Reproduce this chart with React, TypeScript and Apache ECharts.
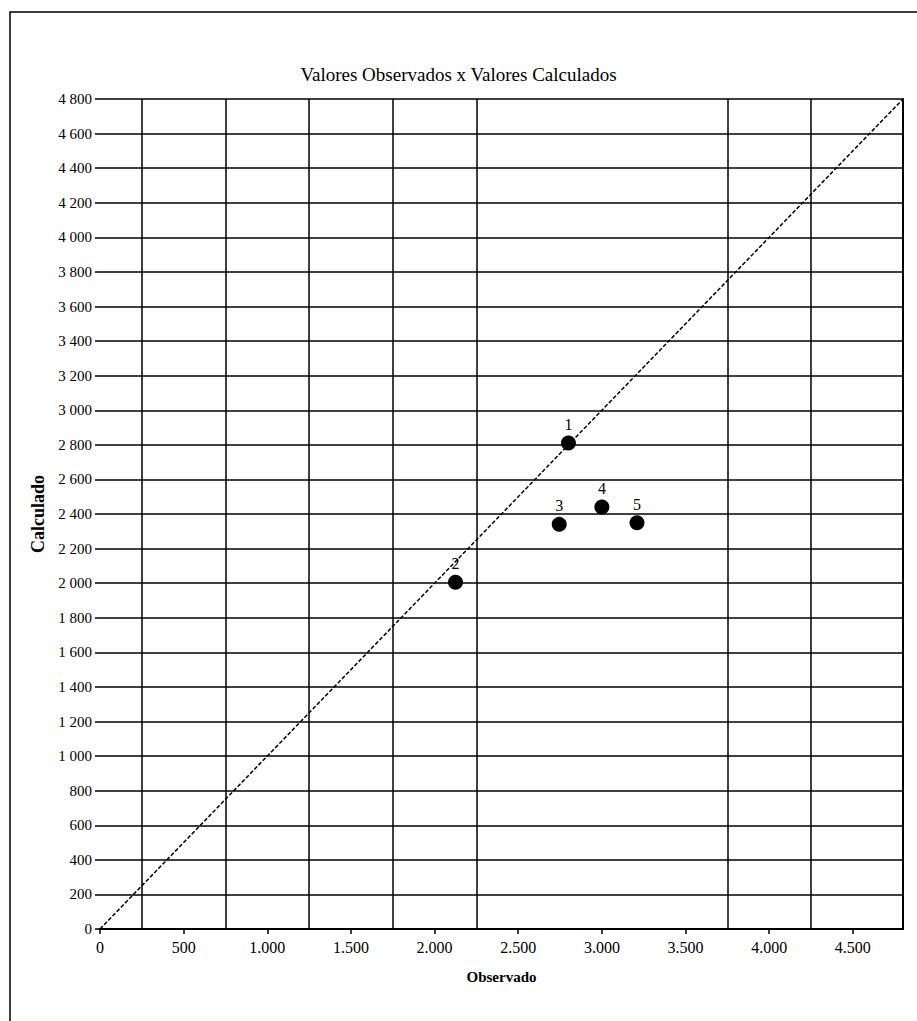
import React, { useEffect, useRef } from "react";
import * as echarts from "echarts";

const pointLabels = ["1", "2", "3", "4", "5"];
const observado = [2800, 2125, 2745, 3000, 3210];
const calculado = [2810, 2005, 2340, 2440, 2350];
const refLine = [0, 4800];
const gridX = [250, 750, 1250, 1750, 2250, 3750, 4250];

const FONT = "Liberation Serif";

function fmtY(v: number) {
  if (v >= 1000) {
    const s = String(v);
    return s.slice(0, s.length - 3) + " " + s.slice(-3);
  }
  return String(v);
}
function fmtX(v: number) {
  if (v >= 1000) {
    const s = String(v);
    return s.slice(0, s.length - 3) + "." + s.slice(-3);
  }
  return String(v);
}

export default function App() {
  const ref = useRef<HTMLDivElement>(null);
  useEffect(() => {
    if (!ref.current) return;
    const chart = echarts.init(ref.current, null, { renderer: "svg" });
    const pts = observado.map((x, i) => ({ value: [x, calculado[i]], name: pointLabels[i] }));
    chart.setOption({
      animation: false,
      backgroundColor: "#ffffff",
      textStyle: { fontFamily: FONT, color: "#000" },
      title: {
        text: "Valores Observados x Valores Calculados",
        left: "center",
        top: 60,
        textStyle: { fontFamily: FONT, fontSize: 19, fontWeight: "normal", color: "#000" },
      },
      graphic: [
        {
          type: "rect",
          shape: { x: 10, y: 12, width: 1000, height: 1100 },
          style: { fill: "none", stroke: "#000", lineWidth: 1.5 },
          silent: true,
        },
      ],
      grid: { left: 100, top: 99, right: 14, bottom: 92 },
      xAxis: {
        type: "value",
        min: 0,
        max: 4800,
        interval: 500,
        name: "Observado",
        nameLocation: "middle",
        nameGap: 40,
        nameTextStyle: { fontFamily: FONT, fontSize: 15, fontWeight: "bold", color: "#000" },
        axisLine: { show: true, lineStyle: { color: "#000", width: 2 } },
        axisTick: { show: true, length: 5, lineStyle: { color: "#000", width: 1.5 } },
        axisLabel: {
          showMaxLabel: false,
          formatter: (v: number) => fmtX(v),
          fontFamily: FONT,
          fontSize: 16,
          color: "#000",
          margin: 10,
        },
        splitLine: { show: false },
      },
      yAxis: [
        {
          type: "value",
          min: 0,
          max: 4800,
          interval: 200,
          name: "Calculado",
          nameLocation: "middle",
          nameGap: 47,
          nameRotate: 90,
          nameTextStyle: { fontFamily: FONT, fontSize: 18, fontWeight: "bold", color: "#000" },
          axisLine: { show: false },
          axisTick: { show: true, length: 5, lineStyle: { color: "#000", width: 1.5 } },
          axisLabel: {
            formatter: (v: number) => fmtY(v),
            fontFamily: FONT,
            fontSize: 15,
            color: "#000",
            margin: 8,
          },
          splitLine: { show: true, lineStyle: { color: "#000", width: 1.5 } },
        },
        {
          type: "value",
          min: 0,
          max: 4800,
          position: "right",
          axisLine: { show: true, onZero: false, lineStyle: { color: "#000", width: 2 } },
          axisTick: { show: false },
          axisLabel: { show: false },
          splitLine: { show: false },
        },
      ],
      series: [
        {
          type: "line",
          data: [
            [refLine[0], refLine[0]],
            [refLine[1], refLine[1]],
          ],
          symbol: "none",
          lineStyle: { color: "#000", width: 1.5, type: [4, 2] },
          silent: true,
          z: 3,
          markLine: {
            silent: true,
            symbol: "none",
            label: { show: false },
            lineStyle: { color: "#000", width: 1.5, type: "solid" },
            data: gridX.map((x) => ({ xAxis: x })),
          },
        },
        {
          type: "scatter",
          data: pts,
          symbol: "circle",
          symbolSize: 15,
          itemStyle: { color: "#000", opacity: 1 },
          z: 5,
          label: {
            show: true,
            position: "top",
            distance: 3,
            formatter: (p: any) => p.name,
            fontFamily: FONT,
            fontSize: 16,
            color: "#000",
            opacity: 1,
          },
        },
      ],
    });
    return () => chart.dispose();
  }, []);
  return (
    <div
      ref={ref}
      style={{ position: "fixed", left: 0, top: 0, width: 917, height: 1021 }}
    />
  );
}
